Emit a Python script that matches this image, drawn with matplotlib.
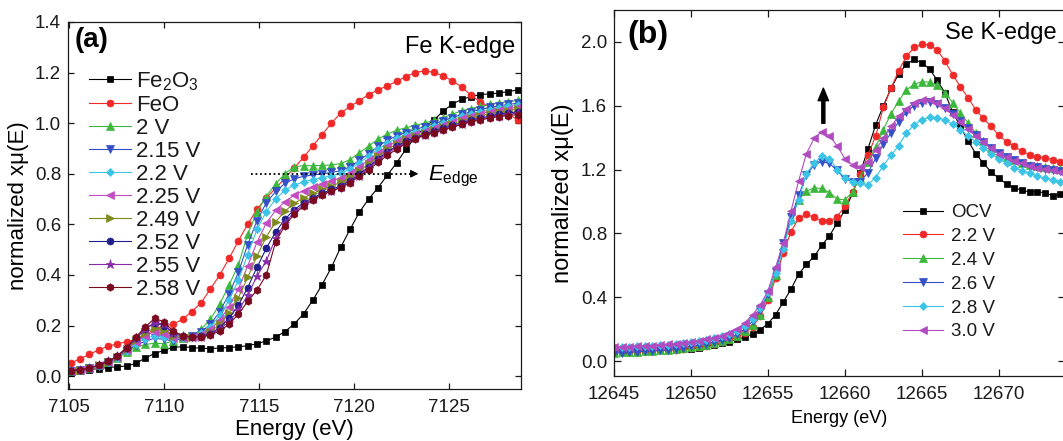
import matplotlib
matplotlib.use('Agg')
import matplotlib.pyplot as plt

plt.rcParams['font.family'] = ['Liberation Sans', 'DejaVu Sans']
plt.rcParams['mathtext.fontset'] = 'custom'
plt.rcParams['mathtext.rm'] = 'Liberation Sans'
plt.rcParams['mathtext.it'] = 'Liberation Sans:italic'
plt.rcParams['mathtext.bf'] = 'Liberation Sans:bold'

# ---------------- Panel (a): Fe K-edge ----------------
energy_fe = [7105.10, 7105.59, 7106.08, 7106.57, 7107.06, 7107.55, 7108.04, 7108.53, 7109.02, 7109.51,
             7110.00, 7110.49, 7110.98, 7111.47, 7111.96, 7112.45, 7112.94, 7113.43, 7113.92, 7114.41,
             7114.90, 7115.39, 7115.88, 7116.37, 7116.86, 7117.35, 7117.84, 7118.33, 7118.82, 7119.31,
             7119.80, 7120.29, 7120.78, 7121.27, 7121.76, 7122.25, 7122.74, 7123.23, 7123.72, 7124.21,
             7124.70, 7125.19, 7125.68, 7126.17, 7126.66, 7127.15, 7127.64, 7128.13, 7128.62]

fe_fe2o3 = [0.014, 0.021, 0.026, 0.030, 0.034, 0.037, 0.040, 0.050, 0.072, 0.089,
            0.102, 0.114, 0.116, 0.113, 0.110, 0.109, 0.111, 0.113, 0.116, 0.120,
            0.128, 0.139, 0.154, 0.176, 0.206, 0.246, 0.300, 0.362, 0.430, 0.510,
            0.580, 0.648, 0.700, 0.745, 0.794, 0.843, 0.897, 0.945, 0.983, 1.013,
            1.047, 1.076, 1.094, 1.105, 1.113, 1.116, 1.119, 1.125, 1.131]
fe_feo = [0.052, 0.068, 0.086, 0.104, 0.118, 0.128, 0.136, 0.146, 0.163, 0.185,
          0.200, 0.205, 0.225, 0.255, 0.290, 0.345, 0.400, 0.465, 0.535, 0.600,
          0.660, 0.705, 0.742, 0.783, 0.823, 0.865, 0.910, 0.955, 1.000, 1.040,
          1.066, 1.089, 1.113, 1.131, 1.148, 1.165, 1.184, 1.200, 1.207, 1.201,
          1.187, 1.167, 1.143, 1.110, 1.084, 1.064, 1.050, 1.036, 1.013]
fe_2v = [0.022, 0.026, 0.033, 0.042, 0.055, 0.072, 0.095, 0.115, 0.125, 0.130,
         0.128, 0.140, 0.150, 0.160, 0.185, 0.225, 0.285, 0.360, 0.440, 0.560,
         0.650, 0.710, 0.760, 0.800, 0.828, 0.832, 0.832, 0.833, 0.835, 0.840,
         0.856, 0.883, 0.909, 0.937, 0.957, 0.972, 0.982, 0.991, 1.000, 1.011,
         1.022, 1.036, 1.049, 1.058, 1.066, 1.074, 1.080, 1.085, 1.090]
fe_215v = [0.022, 0.025, 0.032, 0.041, 0.054, 0.072, 0.098, 0.122, 0.138, 0.150,
           0.145, 0.140, 0.150, 0.157, 0.175, 0.205, 0.255, 0.325, 0.410, 0.520,
           0.615, 0.685, 0.730, 0.762, 0.780, 0.790, 0.795, 0.800, 0.805, 0.812,
           0.828, 0.853, 0.880, 0.908, 0.932, 0.950, 0.963, 0.975, 0.986, 0.997,
           1.009, 1.022, 1.035, 1.045, 1.054, 1.062, 1.069, 1.074, 1.079]
fe_22v = [0.022, 0.025, 0.032, 0.041, 0.055, 0.073, 0.100, 0.128, 0.148, 0.160,
          0.155, 0.145, 0.152, 0.156, 0.170, 0.195, 0.240, 0.300, 0.380, 0.480,
          0.580, 0.650, 0.700, 0.735, 0.755, 0.768, 0.777, 0.785, 0.792, 0.802,
          0.818, 0.843, 0.870, 0.897, 0.921, 0.940, 0.954, 0.966, 0.977, 0.989,
          1.001, 1.014, 1.027, 1.037, 1.046, 1.054, 1.061, 1.066, 1.071]
fe_225v = [0.022, 0.025, 0.032, 0.042, 0.056, 0.075, 0.103, 0.135, 0.160, 0.175,
           0.168, 0.152, 0.152, 0.155, 0.165, 0.185, 0.222, 0.275, 0.345, 0.435,
           0.530, 0.605, 0.655, 0.690, 0.715, 0.733, 0.747, 0.760, 0.772, 0.784,
           0.802, 0.828, 0.855, 0.883, 0.908, 0.928, 0.944, 0.957, 0.969, 0.981,
           0.993, 1.006, 1.019, 1.029, 1.038, 1.046, 1.053, 1.058, 1.063]
fe_249v = [0.022, 0.025, 0.032, 0.042, 0.057, 0.077, 0.106, 0.142, 0.172, 0.190,
           0.182, 0.160, 0.155, 0.155, 0.160, 0.175, 0.205, 0.250, 0.310, 0.390,
           0.475, 0.550, 0.610, 0.652, 0.683, 0.705, 0.722, 0.738, 0.752, 0.766,
           0.786, 0.812, 0.840, 0.870, 0.897, 0.918, 0.936, 0.950, 0.962, 0.974,
           0.986, 0.998, 1.010, 1.020, 1.029, 1.037, 1.044, 1.050, 1.055]
fe_252v = [0.022, 0.025, 0.032, 0.043, 0.058, 0.079, 0.110, 0.150, 0.185, 0.210,
           0.200, 0.170, 0.158, 0.155, 0.157, 0.168, 0.192, 0.228, 0.280, 0.350,
           0.430, 0.505, 0.570, 0.620, 0.658, 0.685, 0.705, 0.722, 0.738, 0.752,
           0.772, 0.798, 0.827, 0.858, 0.886, 0.909, 0.928, 0.943, 0.956, 0.968,
           0.979, 0.991, 1.002, 1.012, 1.020, 1.028, 1.035, 1.040, 1.045]
fe_255v = [0.022, 0.025, 0.032, 0.043, 0.058, 0.080, 0.112, 0.152, 0.188, 0.212,
           0.205, 0.172, 0.158, 0.155, 0.156, 0.165, 0.185, 0.215, 0.260, 0.320,
           0.395, 0.455, 0.545, 0.605, 0.648, 0.678, 0.700, 0.718, 0.733, 0.747,
           0.767, 0.793, 0.822, 0.853, 0.881, 0.904, 0.924, 0.940, 0.953, 0.965,
           0.976, 0.987, 0.998, 1.008, 1.016, 1.023, 1.030, 1.035, 1.040]
fe_258v = [0.022, 0.025, 0.032, 0.043, 0.058, 0.080, 0.113, 0.155, 0.195, 0.228,
           0.215, 0.178, 0.160, 0.155, 0.155, 0.163, 0.178, 0.205, 0.245, 0.295,
           0.340, 0.400, 0.530, 0.595, 0.640, 0.672, 0.697, 0.716, 0.732, 0.745,
           0.765, 0.790, 0.815, 0.845, 0.873, 0.897, 0.920, 0.938, 0.952, 0.963,
           0.973, 0.984, 0.995, 1.005, 1.013, 1.020, 1.026, 1.030, 1.034]

fe_labels = ['Fe$_2$O$_3$', 'FeO', '2 V', '2.15 V', '2.2 V', '2.25 V',
             '2.49 V', '2.52 V', '2.55 V', '2.58 V']
fe_series = [fe_fe2o3, fe_feo, fe_2v, fe_215v, fe_22v, fe_225v,
             fe_249v, fe_252v, fe_255v, fe_258v]
fe_colors = ['#000000', '#f02828', '#3cb83c', '#3350c8', '#3cc4e6', '#c24cc2',
             '#7f8a1e', '#1e1e8c', '#8a2ca8', '#7a0a1e']
fe_markers = ['s', 'o', '^', 'v', 'D', '<', '>', 'o', '*', 'h']
fe_msizes = [4.5, 5.0, 5.4, 5.4, 4.0, 5.4, 5.4, 5.0, 6.5, 5.4]

fe_xticks = [7105, 7110, 7115, 7120, 7125]
fe_yticks = [0.0, 0.2, 0.4, 0.6, 0.8, 1.0, 1.2, 1.4]

# ---------------- Panel (b): Se K-edge ----------------
energy_se = [12645.0, 12645.5, 12646.0, 12646.5, 12647.0, 12647.5, 12648.0, 12648.5, 12649.0, 12649.5,
             12650.0, 12650.5, 12651.0, 12651.5, 12652.0, 12652.5, 12653.0, 12653.5, 12654.0, 12654.5,
             12655.0, 12655.5, 12656.0, 12656.5, 12657.0, 12657.5, 12658.0, 12658.5, 12659.0, 12659.5,
             12660.0, 12660.5, 12661.0, 12661.5, 12662.0, 12662.5, 12663.0, 12663.5, 12664.0, 12664.5,
             12665.0, 12665.5, 12666.0, 12666.5, 12667.0, 12667.5, 12668.0, 12668.5, 12669.0, 12669.5,
             12670.0, 12670.5, 12671.0, 12671.5, 12672.0, 12672.5, 12673.0, 12673.5, 12674.0]

se_ocv = [0.058, 0.060, 0.062, 0.063, 0.065, 0.066, 0.068, 0.070, 0.072, 0.074,
          0.077, 0.083, 0.092, 0.100, 0.110, 0.122, 0.135, 0.150, 0.168, 0.195,
          0.235, 0.290, 0.370, 0.450, 0.545, 0.605, 0.655, 0.725, 0.785, 0.865,
          0.945, 1.050, 1.180, 1.330, 1.480, 1.600, 1.710, 1.800, 1.860, 1.890,
          1.870, 1.830, 1.760, 1.680, 1.560, 1.470, 1.380, 1.300, 1.240, 1.185,
          1.145, 1.110, 1.085, 1.070, 1.060, 1.060, 1.055, 1.035, 1.045]
se_22v = [0.060, 0.061, 0.062, 0.063, 0.064, 0.065, 0.066, 0.068, 0.072, 0.076,
          0.082, 0.088, 0.096, 0.106, 0.118, 0.132, 0.150, 0.175, 0.215, 0.280,
          0.380, 0.520, 0.680, 0.810, 0.895, 0.920, 0.900, 0.878, 0.875, 0.905,
          0.970, 1.060, 1.170, 1.290, 1.410, 1.590, 1.710, 1.820, 1.910, 1.965,
          1.985, 1.980, 1.950, 1.880, 1.795, 1.720, 1.650, 1.575, 1.520, 1.470,
          1.415, 1.375, 1.345, 1.315, 1.292, 1.280, 1.275, 1.262, 1.250]
se_24v = [0.052, 0.054, 0.056, 0.058, 0.061, 0.064, 0.067, 0.071, 0.076, 0.081,
          0.087, 0.094, 0.102, 0.112, 0.124, 0.139, 0.158, 0.185, 0.225, 0.290,
          0.400, 0.540, 0.720, 0.890, 1.010, 1.065, 1.085, 1.082, 1.055, 1.015,
          1.010, 1.060, 1.150, 1.250, 1.340, 1.450, 1.550, 1.630, 1.700, 1.735,
          1.750, 1.748, 1.728, 1.680, 1.620, 1.555, 1.492, 1.430, 1.378, 1.335,
          1.300, 1.278, 1.257, 1.240, 1.230, 1.220, 1.215, 1.210, 1.205]
se_26v = [0.050, 0.052, 0.054, 0.057, 0.060, 0.063, 0.067, 0.072, 0.078, 0.084,
          0.091, 0.099, 0.108, 0.118, 0.130, 0.146, 0.168, 0.200, 0.250, 0.320,
          0.420, 0.560, 0.740, 0.900, 1.040, 1.165, 1.230, 1.250, 1.238, 1.195,
          1.140, 1.125, 1.125, 1.180, 1.270, 1.360, 1.430, 1.500, 1.560, 1.600,
          1.620, 1.625, 1.612, 1.585, 1.548, 1.505, 1.460, 1.415, 1.375, 1.335,
          1.302, 1.280, 1.258, 1.240, 1.225, 1.213, 1.204, 1.197, 1.190]
se_28v = [0.085, 0.087, 0.089, 0.091, 0.093, 0.096, 0.099, 0.103, 0.107, 0.112,
          0.118, 0.125, 0.133, 0.143, 0.155, 0.170, 0.190, 0.220, 0.265, 0.330,
          0.430, 0.550, 0.705, 0.880, 1.010, 1.175, 1.240, 1.283, 1.268, 1.200,
          1.148, 1.125, 1.115, 1.105, 1.150, 1.225, 1.290, 1.350, 1.430, 1.480,
          1.512, 1.528, 1.525, 1.510, 1.485, 1.450, 1.410, 1.375, 1.335, 1.300,
          1.265, 1.240, 1.212, 1.192, 1.177, 1.160, 1.145, 1.135, 1.124]
se_30v = [0.086, 0.088, 0.090, 0.092, 0.094, 0.097, 0.100, 0.104, 0.109, 0.115,
          0.121, 0.128, 0.136, 0.146, 0.158, 0.175, 0.200, 0.240, 0.290, 0.350,
          0.440, 0.590, 0.740, 0.940, 1.130, 1.300, 1.395, 1.438, 1.412, 1.348,
          1.268, 1.230, 1.218, 1.250, 1.320, 1.400, 1.470, 1.535, 1.580, 1.615,
          1.634, 1.634, 1.615, 1.585, 1.545, 1.500, 1.455, 1.410, 1.372, 1.335,
          1.300, 1.280, 1.256, 1.239, 1.225, 1.212, 1.202, 1.195, 1.187]

se_labels = ['OCV', '2.2 V', '2.4 V', '2.6 V', '2.8 V', '3.0 V']
se_series = [se_ocv, se_22v, se_24v, se_26v, se_28v, se_30v]
se_colors = ['#000000', '#f02828', '#3cb83c', '#3350c8', '#3cc4e6', '#b04cc0']
se_markers = ['s', 'o', '^', 'v', 'D', '<']
se_msizes = [4.5, 5.0, 5.4, 5.4, 4.0, 5.4]

se_xticks = [12645, 12650, 12655, 12660, 12665, 12670]
se_yticks = [0.0, 0.4, 0.8, 1.2, 1.6, 2.0]

# ---------------- Figure ----------------
W, H = 1063, 441
fig = plt.figure(figsize=(W / 100, H / 100), dpi=100)

def px_rect(l, r, t, b):
    return [l / W, (H - b) / H, (r - l) / W, (b - t) / H]

ax1 = fig.add_axes(px_rect(68, 521, 22, 389))
ax2 = fig.add_axes(px_rect(614, 1065, 10, 376))

for lab, vals, c, m, ms in zip(fe_labels, fe_series, fe_colors, fe_markers, fe_msizes):
    ax1.plot(energy_fe, vals, color=c, marker=m, ms=ms, lw=0.8, mec=c, mfc=c,
             mew=0.5, label=lab)

for lab, vals, c, m, ms in zip(se_labels, se_series, se_colors, se_markers, se_msizes):
    ax2.plot(energy_se, vals, color=c, marker=m, ms=ms, lw=0.8, mec=c, mfc=c,
             mew=0.5, label=lab)

ax1.set_xlim(7104.95, 7128.8)
ax1.set_ylim(-0.051, 1.4)
ax2.set_xlim(12645.0, 12674.3)
ax2.set_ylim(-0.094, 2.2)

ax1.set_xticks(fe_xticks)
ax1.set_xticklabels([str(v) for v in fe_xticks])
ax1.set_yticks(fe_yticks)
ax1.set_yticklabels(['%.1f' % v for v in fe_yticks])
ax2.set_xticks(se_xticks)
ax2.set_xticklabels([str(v) for v in se_xticks])
ax2.set_yticks(se_yticks)
ax2.set_yticklabels(['%.1f' % v for v in se_yticks])

for ax, fs, tl in ((ax1, 13.5, 4.5), (ax2, 13.5, 5.0)):
    ax.tick_params(direction='in', length=tl, width=0.9, top=True, right=True,
                   labelsize=fs, colors='#1a1a1a', pad=5)
    for sp in ax.spines.values():
        sp.set_linewidth(0.9)
        sp.set_color('#1a1a1a')

ax1.tick_params(axis='x', pad=7)
ax2.tick_params(axis='x', pad=7)

ax1.set_xlabel('Energy (eV)', fontsize=16, labelpad=2)
ax1.set_ylabel('normalized xμ(E)', fontsize=16, labelpad=4)
ax2.set_xlabel('Energy (eV)', fontsize=13, labelpad=5)
ax2.set_ylabel('normalized xμ(E)', fontsize=17, labelpad=5)

# panel labels
ax1.text(0.0155, 0.951, '(a)', transform=ax1.transAxes, fontsize=20,
         fontweight='bold', ha='left', va='center')
ax1.text(0.987, 0.932, 'Fe K-edge', transform=ax1.transAxes, fontsize=17,
         ha='right', va='center')
ax2.text(0.029, 0.932, '(b)', transform=ax2.transAxes, fontsize=23,
         fontweight='bold', ha='left', va='center')
ax2.text(0.982, 0.937, 'Se K-edge', transform=ax2.transAxes, fontsize=17,
         ha='right', va='center')

# E_edge dotted arrow in (a)
edge_level = 0.8
edge_start, edge_end = 7114.6, 7123.4
ax1.plot([edge_start, edge_end - 0.3], [edge_level, edge_level], ls=(0, (1, 1.5)),
         color='black', lw=1.3)
ax1.annotate('', xy=(edge_end, edge_level), xytext=(edge_end - 0.4, edge_level),
             arrowprops=dict(arrowstyle='-|>', color='black', lw=1.0,
                             mutation_scale=11, shrinkA=0, shrinkB=0))
ax1.text(edge_end + 0.5, edge_level - 0.012, r'$\mathit{E}_{\mathrm{edge}}$',
         fontsize=16, ha='left', va='center')

# vertical arrow in (b)
arrow_x, arrow_y0, arrow_y1 = 12658.6, 1.49, 1.71
ax2.annotate('', xy=(arrow_x, arrow_y1), xytext=(arrow_x, arrow_y0),
             arrowprops=dict(width=2.2, headwidth=7.5, headlength=9,
                             color='black', shrink=0))

# legends
leg1 = ax1.legend(loc='upper left', bbox_to_anchor=(89 / W, 1 - 70 / H),
                  bbox_transform=fig.transFigure, frameon=False, fontsize=16,
                  handlelength=1.9, handletextpad=0.22, labelspacing=0.09,
                  borderpad=0, borderaxespad=0, numpoints=1)
leg2 = ax2.legend(loc='upper left', bbox_to_anchor=(903 / W, 1 - 204 / H),
                  bbox_transform=fig.transFigure, frameon=False, fontsize=13.5,
                  handlelength=2.13, handletextpad=0.43, labelspacing=0.36,
                  borderpad=0, borderaxespad=0, numpoints=1)
for leg in (leg1, leg2):
    for t in leg.get_texts():
        t.set_color('#1a1a1a')

fig.savefig('out.png', dpi=100)
